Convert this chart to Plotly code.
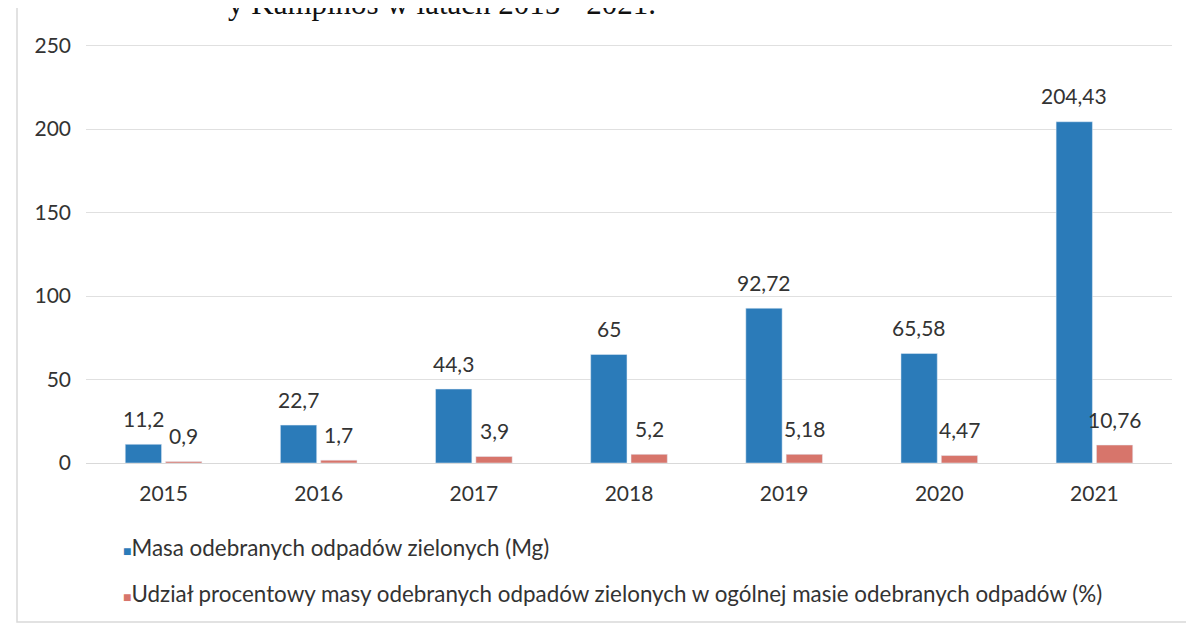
import plotly.graph_objects as go

years = ["2015", "2016", "2017", "2018", "2019", "2020", "2021"]
masa = [11.2, 22.7, 44.3, 65, 92.72, 65.58, 204.43]
udzial = [0.9, 1.7, 3.9, 5.2, 5.18, 4.47, 10.76]
name_masa = "Masa odebranych odpadów zielonych (Mg)"
name_udzial = "Udział procentowy masy odebranych odpadów zielonych w ogólnej masie odebranych odpadów (%)"
y_ticks = [0, 50, 100, 150, 200, 250]

BLUE = "#2B7BB9"
RED = "#D7756B"
FONT = "Lato"
TXT = "#333333"

W, H = 1194, 630
OFF = 8  # page body offset
# plot area in screen pixels
PX0, PX1, PY0, PY1 = 86, 1172, 44, 463
ML, MR, MT, MB = PX0 - OFF, W - (PX1 - OFF), PY0 - OFF, H - (PY1 - OFF)
PW, PH = W - ML - MR, H - MT - MB
bargap, bargroupgap = 0.48, 0.1

fig = go.Figure()
fig.add_trace(go.Bar(x=years, y=masa, name=name_masa, marker_color=BLUE))
fig.add_trace(go.Bar(x=years, y=udzial, name=name_udzial, marker_color=RED))

cat_w = PW / len(years)
off = cat_w * (1 - bargap) / 4

def fmt(v):
    return str(v).replace(".", ",")

def px_x(p):
    return (p - PX0) / PW

def px_y(p):
    return (PY1 - p) / PH

anns = []
for i, v in enumerate(masa):
    anns.append(dict(x=i, y=v, xref="x", yref="y", text=fmt(v), showarrow=False,
                     xshift=-off, yshift=26, yanchor="middle",
                     font=dict(family=FONT, size=21, color=TXT)))
for i, v in enumerate(udzial):
    anns.append(dict(x=i, y=v, xref="x", yref="y", text=fmt(v), showarrow=False,
                     xshift=off, yshift=26, yanchor="middle",
                     font=dict(family=FONT, size=21, color=TXT)))
# partially visible document title (cut at the top edge)
anns.append(dict(x=px_x(226), y=px_y(3), xref="paper", yref="paper",
                 text="y Kampinos w latach 2015 - 2021.",
                 showarrow=False, xanchor="left", yanchor="middle",
                 font=dict(family="Liberation Serif", size=31, color="#111111")))
# legend entries
for name, col, ypix in [(name_masa, BLUE, 547), (name_udzial, RED, 593)]:
    anns.append(dict(x=px_x(121), y=px_y(ypix), xref="paper", yref="paper",
                     text=f"<span style='color:{col};font-size:14px'>■</span>{name}",
                     showarrow=False, xanchor="left", yanchor="middle",
                     font=dict(family=FONT, size=22.4, color=TXT)))

fig.update_layout(
    width=W, height=H,
    margin=dict(l=ML, r=MR, t=MT, b=MB, autoexpand=False),
    paper_bgcolor="white", plot_bgcolor="white",
    barmode="group", bargap=bargap, bargroupgap=bargroupgap,
    font=dict(family=FONT, size=21, color=TXT),
    showlegend=False,
    annotations=anns,
    shapes=[dict(type="rect", xref="paper", yref="paper",
                 x0=px_x(17), x1=px_x(1190), y0=px_y(622), y1=px_y(-20),
                 line=dict(color="#d9d9d9", width=1.5), layer="below")],
)
fig.update_xaxes(type="category", range=[-0.5, len(years) - 0.5], showgrid=False,
                 showline=True, linecolor="#d9d9d9", linewidth=1, ticks="",
                 ticklabelstandoff=12, tickfont=dict(size=21))
fig.update_yaxes(range=[0, 251], tickvals=y_ticks, showgrid=True, gridcolor="#e0e0e0",
                 gridwidth=1, zeroline=False, showline=False, ticks="",
                 ticklabelstandoff=14, tickfont=dict(size=21))

fig.write_html("out.html")
